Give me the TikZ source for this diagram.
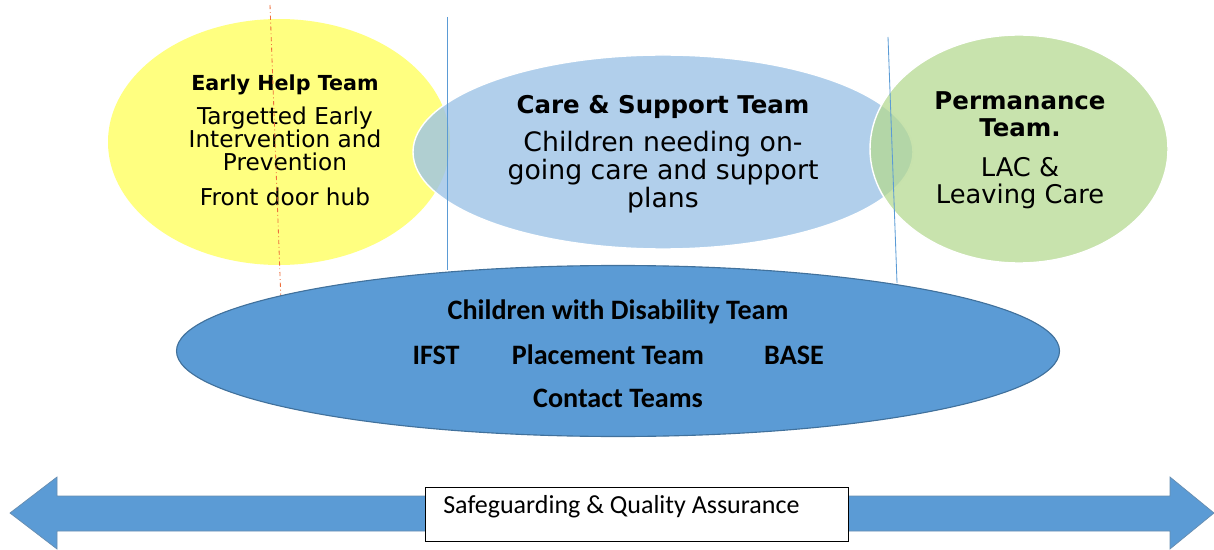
\documentclass[tikz,border=0pt]{standalone}
\usepackage{fontspec}
\usetikzlibrary{
    shapes.geometric,
    positioning
}
\newfontfamily\teamfont{DejaVu Sans}
\newfontfamily\calfont{Carlito}
\definecolor{helpYellow}{RGB}{255, 255, 128}
\definecolor{careBlue}{RGB}{157, 195, 230}
\definecolor{permGreen}{RGB}{181, 217, 145}
\definecolor{baseBlue}{RGB}{91, 155, 213}
\definecolor{baseEdge}{RGB}{65, 113, 156}
\definecolor{guideBlue}{RGB}{91, 155, 213}
\definecolor{guideRed}{RGB}{237, 110, 60}
\def\px{0.025cm}
\tikzset{
    team/.style={
        ellipse,
        draw=white,
        line width=1pt,
        inner sep=0pt,
        align=center,
        font=\teamfont,
        text=black
    },
    service/.style={
        font=\calfont\bfseries\fontsize{20}{24}\selectfont,
        text=black,
        inner sep=0pt
    },
    guide/.style={
        draw=guideBlue,
        line width=0.6pt
    }
}

\begin{document}
\begin{tikzpicture}[x=\px, y=-\px]
    \useasboundingbox (0,0) rectangle (1214,550);

    % Team ellipses
    \node[team, fill=helpYellow, minimum width=342*\px, minimum height=246*\px, draw=none] (early) at (279,142) {};
    \node[team, fill=careBlue, fill opacity=0.8, minimum width=500*\px, minimum height=194*\px] (care) at (663,152) {};
    \node[team, fill=permGreen, fill opacity=0.75, minimum width=298*\px, minimum height=228*\px] (perm) at (1019,149) {};

    % Team texts
    \node[font=\teamfont\fontsize{16.5}{16.4}\selectfont, align=center] (earlyText) at (285,140)
        {{\fontsize{14.7}{16.4}\selectfont\bfseries Early Help Team}\\[8pt]Targetted Early\\Intervention and\\Prevention\\[8pt]Front door hub};
    \node[font=\teamfont\fontsize{19}{19.9}\selectfont, align=center] (careText) at (663,154)
        {{\fontsize{17.4}{19.9}\selectfont\bfseries Care \& Support Team}\\[7pt]Children needing on-\\going care and support\\plans};
    \node[font=\teamfont\fontsize{18.3}{19.2}\selectfont, align=center] (permText) at (1020,150)
        {{\fontsize{17.4}{19.2}\selectfont\bfseries Permanance}\\{\fontsize{17.4}{19.2}\selectfont\bfseries Team.}\\[9pt]LAC \&\\Leaving Care};

    % Guide lines
    \draw[guide] (447,17) -- (447,270);
    \draw[guide] (888,37) -- (897,283);
    \draw[draw=guideRed, line width=0.6pt, dash dot] (270,5) -- (281,302);

    % Disability ellipse
    \node[ellipse, fill=baseBlue, draw=baseEdge, line width=0.8pt, minimum width=883*\px, minimum height=171*\px] (cwd) at (618,351) {};
    \node[service] (cwdTitle) at (618,312) {Children with Disability Team};
    \node[service] (placement) at (608,355) {Placement Team};
    \node[service] (ifst) at (436,355) {IFST};
    \node[service] (base) at (794,355) {BASE};
    \node[service] (contact) at (618,398) {Contact Teams};

    % Safeguarding arrow
    \draw[fill=baseBlue, draw=baseEdge!80, line width=0.5pt]
        (10,513) -- (57,477) -- (57,496) -- (1170,496) -- (1170,477) -- (1214,513)
        -- (1170,549) -- (1170,531) -- (57,531) -- (57,549) -- cycle;
    \node[draw=black, fill=white, line width=0.6pt, minimum width=423*\px, minimum height=54*\px, inner sep=0pt] (sqa) at (636.5,514) {};
    \node[font=\calfont\fontsize{18.5}{22}\selectfont, anchor=west, inner sep=0pt] (sqaText) at (443,507) {Safeguarding \& Quality Assurance};
\end{tikzpicture}
\end{document}
